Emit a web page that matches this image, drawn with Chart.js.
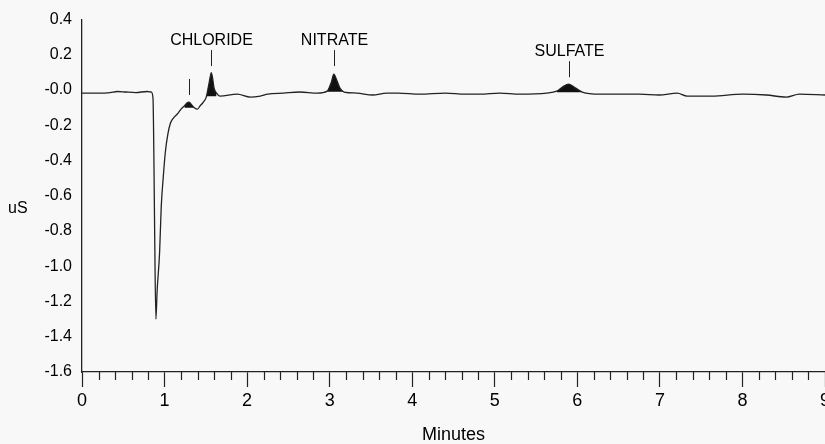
<!DOCTYPE html>
<html>
<head>
<meta charset="utf-8">
<script src="https://cdn.jsdelivr.net/npm/chart.js@4"></script>
<style>
  html, body { margin: 0; padding: 0; background: #f8f8f8; }
  #wrap { width: 825px; height: 444px; }
</style>
</head>
<body>
<div id="wrap"><canvas id="chart" width="825" height="444"></canvas></div>
<script>
// retention time (minutes) and detector signal (uS)
const times = [
  0.00, 0.22, 0.34, 0.43, 0.53, 0.65, 0.79, 0.84, 0.86, 0.87, 0.88, 0.895,
  0.91, 0.94, 0.96, 0.985, 1.01, 1.04, 1.07, 1.105, 1.155, 1.20, 1.24, 1.27,
  1.295, 1.32, 1.36, 1.40, 1.43, 1.47, 1.505, 1.53, 1.555, 1.565, 1.58, 1.60,
  1.63, 1.67, 1.88, 2.04, 2.16, 2.25, 2.44, 2.64, 2.85, 2.97, 3.02, 3.05,
  3.09, 3.125, 3.175, 3.33, 3.52, 3.69, 3.83, 4.09, 4.40, 4.64, 4.82, 5.06,
  5.30, 5.63, 5.75, 5.82, 5.895, 5.98, 6.06, 6.27, 6.51, 6.75, 6.99, 7.21,
  7.33, 7.63, 8.00, 8.29, 8.53, 8.69, 9.00
];
const signal = [
  -0.017, -0.017, -0.014, -0.008, -0.011, -0.014, -0.008, -0.011, -0.045, -0.35, -0.80, -1.30,
  -1.14, -0.92, -0.66, -0.49, -0.35, -0.25, -0.19, -0.16, -0.136, -0.108, -0.09, -0.074,
  -0.068, -0.079, -0.10, -0.108, -0.09, -0.068, -0.04, 0.017, 0.079, 0.099, 0.074, 0.011,
  -0.017, -0.034, -0.023, -0.04, -0.034, -0.023, -0.017, -0.011, -0.017, -0.006, 0.045, 0.091,
  0.051, 0.011, -0.011, -0.017, -0.028, -0.017, -0.017, -0.023, -0.017, -0.023, -0.023, -0.017,
  -0.023, -0.017, -0.006, 0.017, 0.034, 0.011, -0.011, -0.023, -0.023, -0.023, -0.028, -0.017,
  -0.034, -0.034, -0.023, -0.028, -0.04, -0.023, -0.028
];

// integrated (shaded) peaks: start, end, baseline
const peakStart = [1.24, 1.505, 2.97, 5.75];
const peakEnd = [1.36, 1.63, 3.175, 6.06];
const peakBase = [-0.10, -0.035, -0.01, -0.012];

// peak labels
const labelNames = ['', 'CHLORIDE', 'NITRATE', 'SULFATE'];
const labelTimes = [1.295, 1.565, 3.05, 5.895];
const labelLevels = [0.063, 0.227, 0.227, 0.164];

const minorStep = 0.2;

const points = times.map((t, i) => ({ x: t, y: signal[i] }));

const peakSets = peakStart.map((s, i) => ({
  data: points.filter(p => p.x >= s && p.x <= peakEnd[i]),
  fill: { value: peakBase[i] },
  backgroundColor: '#111',
  borderWidth: 0,
  pointRadius: 0,
  cubicInterpolationMode: 'monotone'
}));

const FONT = '"Liberation Sans", Arial, sans-serif';

const annotate = {
  id: 'annotate',
  afterDraw(chart) {
    const { ctx, chartArea, scales: { x, y } } = chart;
    ctx.save();
    ctx.strokeStyle = '#222';
    ctx.lineWidth = 1;
    ctx.fillStyle = '#000';
    ctx.font = '16px ' + FONT;
    ctx.textAlign = 'center';
    ctx.textBaseline = 'alphabetic';
    labelTimes.forEach((t, i) => {
      const px = Math.round(x.getPixelForValue(t)) + 0.5;
      const py = y.getPixelForValue(labelLevels[i]);
      ctx.beginPath();
      ctx.moveTo(px, py);
      ctx.lineTo(px, py + 16);
      ctx.stroke();
      if (labelNames[i]) ctx.fillText(labelNames[i], px, py - 5);
    });

    // minor ticks on the time axis
    ctx.lineWidth = 1.2;
    for (let i = 1; i * minorStep < x.max; i++) {
      if (i % 5 === 0) continue;
      const px = Math.round(x.getPixelForValue(i * minorStep)) + 0.5;
      ctx.beginPath();
      ctx.moveTo(px, chartArea.bottom);
      ctx.lineTo(px, chartArea.bottom + 8);
      ctx.stroke();
    }

    // horizontal y axis title
    ctx.font = '16px ' + FONT;
    ctx.textAlign = 'left';
    ctx.textBaseline = 'middle';
    ctx.fillText('uS', 8, y.getPixelForValue(-0.67));
    ctx.restore();
  }
};

new Chart(document.getElementById('chart'), {
  type: 'line',
  data: {
    datasets: [
      {
        data: points,
        borderColor: '#222',
        borderWidth: 1.3,
        pointRadius: 0,
        fill: false,
        cubicInterpolationMode: 'monotone'
      },
      ...peakSets
    ]
  },
  options: {
    responsive: false,
    animation: false,
    layout: { padding: { top: 17, right: 0, left: 0, bottom: 0 } },
    plugins: { legend: { display: false }, tooltip: { enabled: false } },
    scales: {
      x: {
        type: 'linear',
        min: 0,
        max: 9,
        ticks: { stepSize: 1, color: '#000', padding: 3, font: { size: 18, family: FONT } },
        grid: { drawOnChartArea: false, tickLength: 15, tickColor: '#222', tickWidth: 1.2 },
        border: { color: '#222', width: 1.3 },
        title: {
          display: true, text: 'Minutes', color: '#000', padding: 0,
          font: { size: 18, family: FONT, lineHeight: 1.0 }
        },
        afterFit(s) { s.height = 72; s.paddingLeft = 0; s.paddingRight = 0; }
      },
      y: {
        min: -1.6,
        max: 0.4,
        ticks: {
          stepSize: 0.2,
          color: '#000',
          padding: 10,
          font: { size: 16, family: FONT },
          callback: v => (Math.abs(v) < 1e-9 ? '-0.0' : v.toFixed(1))
        },
        grid: { display: false, drawTicks: false },
        border: { color: '#222', width: 1.3 },
        afterFit(s) { s.width = 82; }
      }
    }
  },
  plugins: [annotate]
});
</script>
</body>
</html>
